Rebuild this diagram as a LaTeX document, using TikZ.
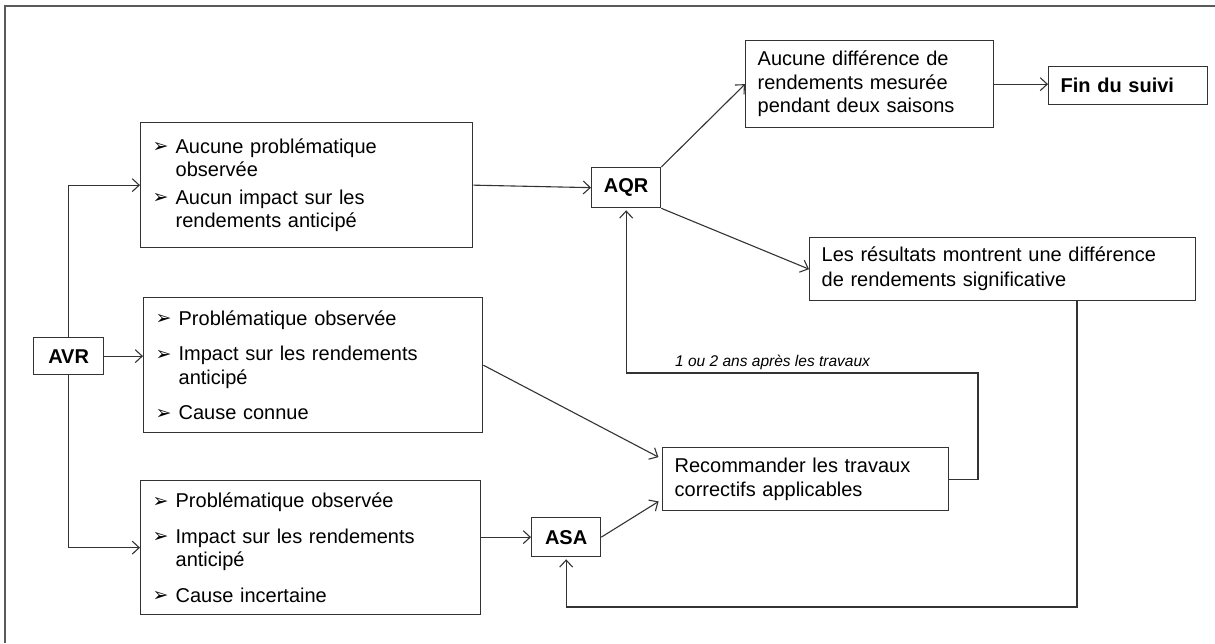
\documentclass[tikz,border=0pt]{standalone}
\usepackage{fontspec}
\setmainfont{Liberation Sans}
\newfontfamily\dejavu{DejaVu Sans}
\usetikzlibrary{arrows.meta}
\definecolor{ln}{HTML}{333333}
\definecolor{frame}{HTML}{5A5A5A}
\newcommand\bul{\makebox[23pt][l]{\raisebox{0.5pt}{\dejavu\fontsize{19}{19}\selectfont ➢}}}
\newcommand\ind{\hspace*{23pt}}
\begin{document}
\begin{tikzpicture}[x=1pt,y=-1pt,
  box/.style={draw=ln, line width=1.3pt, anchor=north west, inner xsep=12pt, inner ysep=0pt, align=left, font=\fontsize{20}{23.5}\selectfont},
  sbox/.style={draw=ln, line width=1.3pt, anchor=north west, inner sep=0pt, align=center, font=\fontsize{20}{23.5}\selectfont\bfseries},
  con/.style={draw=ln, line width=1.1pt, -{Straight Barb[length=7pt,width=13pt,line width=1.1pt]}},
 ]
\useasboundingbox (0,0) rectangle (1215,643);
\draw[line width=2pt, draw=frame] (5,643) -- (5,6) -- (1215,6);

\node[box, minimum width=332, minimum height=125, text width=308] (b1) at (140,122)
 {\bul Aucune problématique\\\ind observée\\[4pt]\bul Aucun impact sur les\\\ind rendements anticipé};
\node[box, minimum width=339, minimum height=135, text width=315] (b2) at (143,297)
 {\bul Problématique observée\\[12pt]\bul Impact sur les rendements\\\ind anticipé\\[12pt]\bul Cause connue};
\node[box, minimum width=340, minimum height=134, text width=316] (b3) at (140,480)
 {\bul Problématique observée\\[12pt]\bul Impact sur les rendements\\\ind anticipé\\[12pt]\bul Cause incertaine};

\node[sbox, minimum width=70, minimum height=37] (avr) at (33,337) {AVR};
\node[sbox, minimum width=69, minimum height=40] (aqr) at (591,167) {AQR};
\node[sbox, minimum width=69, minimum height=39] (asa) at (531,517) {ASA};

\node[box, minimum width=248, minimum height=87, text width=224] (diff) at (745,40)
 {Aucune différence de\\rendements mesurée\\pendant deux saisons};
\node[box, minimum width=159, minimum height=38, text width=135, font=\fontsize{20}{23.5}\selectfont\bfseries] (fin) at (1048,66) {Fin du suivi};
\node[box, minimum width=386, minimum height=63, text width=362, font=\fontsize{20}{25}\selectfont] (res) at (809,237)
 {Les résultats montrent une différence\\de rendements significative};
\node[box, minimum width=286, minimum height=63, text width=262] (rec) at (662,447)
 {Recommander les travaux\\correctifs applicables};

\node[anchor=base west, inner sep=0pt, font=\fontsize{15.5}{18}\selectfont\itshape] (lbl) at (675,366)
 {1 ou 2 ans après les travaux};

\coordinate (fb) at (978,373);
\coordinate (rb) at (1077,607);

\draw[con] (avr.north) |- (b1.west);
\draw[con] (avr.east) -- (avr.east -| b2.west);
\draw[con] (avr.south) |- (b3.west);
\draw[con] (b1.east) -- (aqr.west);
\draw[con] (aqr.north east) -- (diff.west);
\draw[con] (diff.east) -- (diff.east -| fin.west);
\draw[con] (aqr.south east) -- (res.west);
\draw[con, shorten >=4pt] (b2.east) -- (rec.172.6);
\draw[con, shorten >=4pt] (asa.east) -- (rec.188);
\draw[con] (asa.west -| b3.east) -- (asa.west);
\draw[con, shorten >=2pt] (rec.east) -| (fb) -- (fb -| aqr.south) -- (aqr.south);
\draw[con, shorten >=2pt] (rb |- res.south) -- (rb) -| (asa.south);
\end{tikzpicture}
\end{document}
